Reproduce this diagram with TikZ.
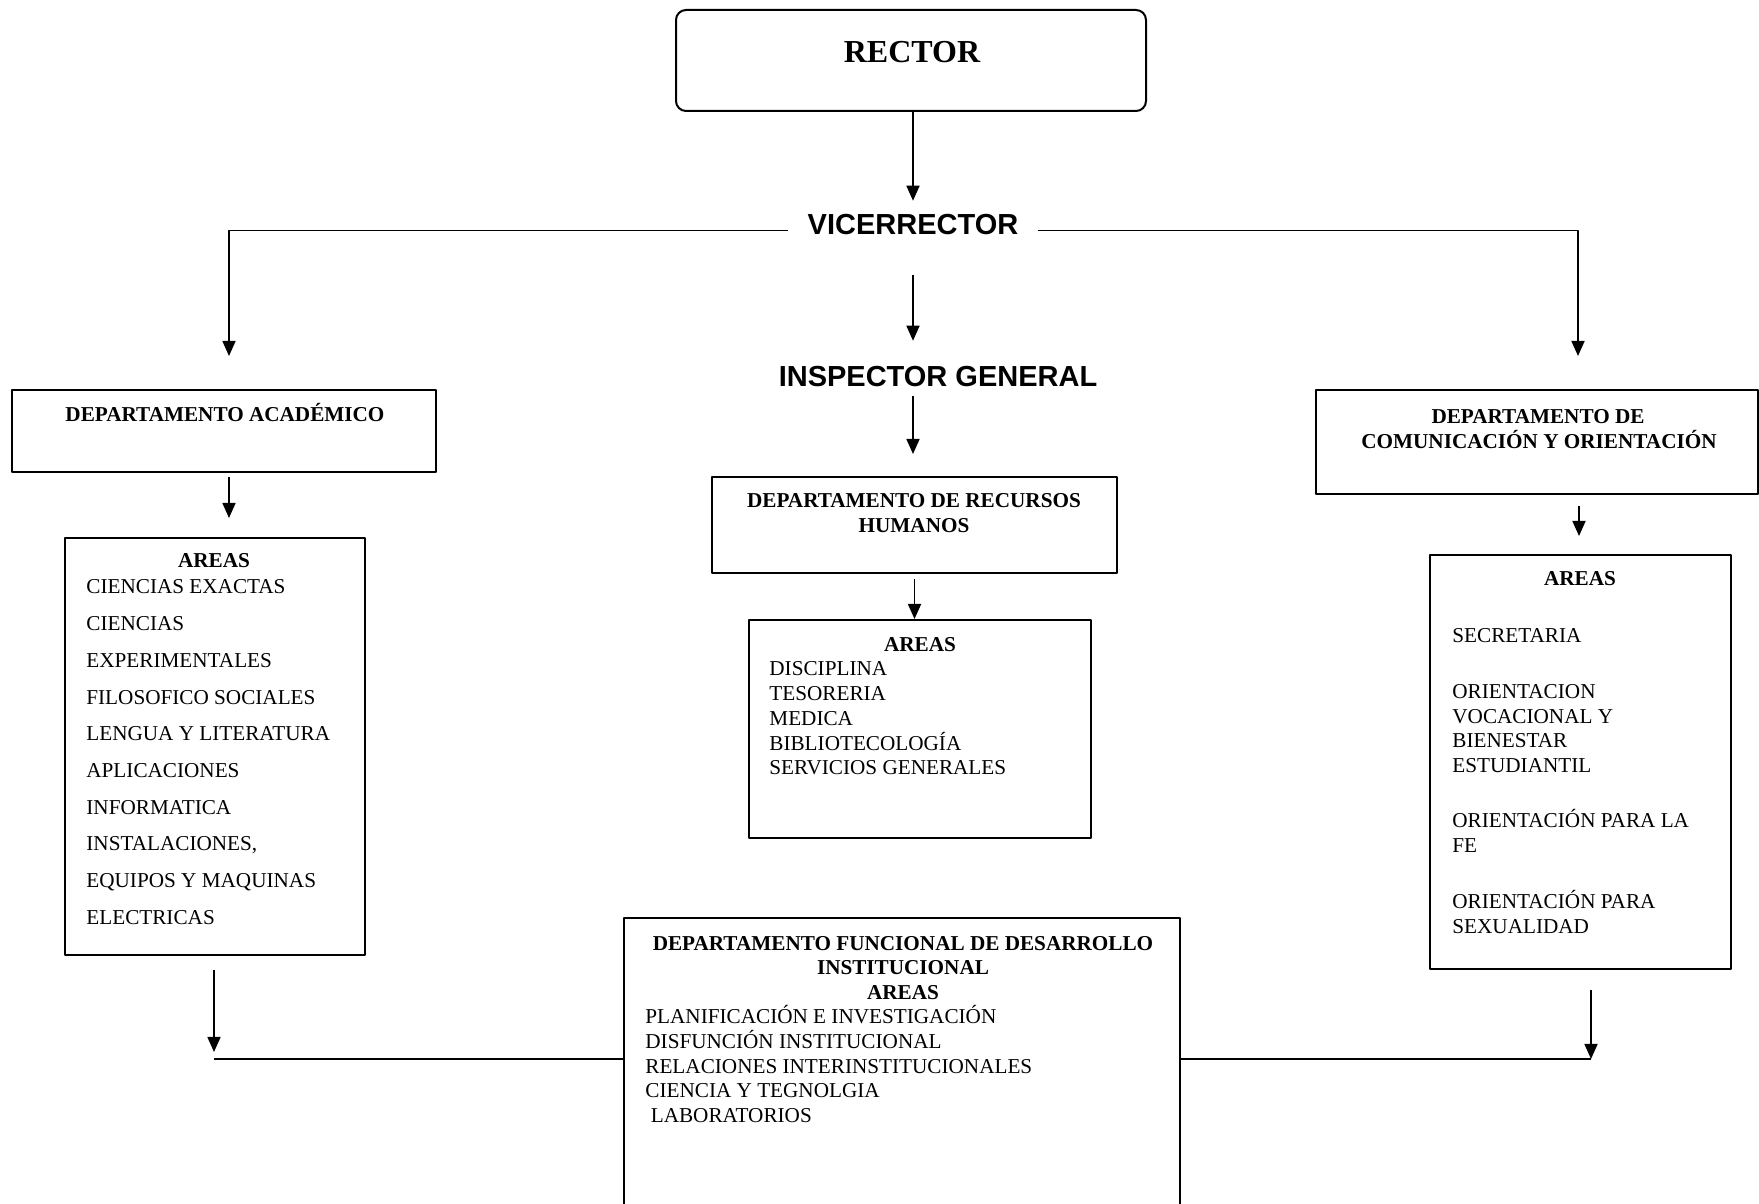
\documentclass[tikz,border=0pt]{standalone}
\usepackage{fontspec}
\setmainfont{Liberation Serif}
\newfontfamily\arialfont{Liberation Sans}
\usetikzlibrary{arrows.meta}
\begin{document}
\begin{tikzpicture}[>={Triangle[length=7.5bp,width=6.5bp]},line join=bevel,
  box/.style={draw,line width=1bp,inner sep=0pt},
  txt/.style={anchor=base,inner sep=0pt,font=\fontsize{10.6bp}{12.35bp}\selectfont},
  hd/.style={txt,font=\fontsize{10.6bp}{12.35bp}\selectfont\bfseries},
  itm/.style={txt,anchor=base west},
  big/.style={anchor=base,font=\arialfont\fontsize{14.5bp}{17bp}\selectfont\bfseries},
  conn/.style={black,line width=0.8bp}]
\useasboundingbox (0bp,0bp) rectangle (879.5bp,602bp);
%%
\node (node_rector) at (455.5bp,571.75bp) [box,rounded corners=5bp,minimum width=235bp,minimum height=50.5bp] {};
  \node (t_rector) at (456bp,570.5bp) [anchor=base,inner sep=0pt,font=\fontsize{16bp}{19bp}\selectfont\bfseries] {RECTOR};
  \node (node_vice) at (456.5bp,484.5bp) [big,inner xsep=9.5bp,inner ysep=3bp] {VICERRECTOR};
  \node (node_insp) at (469bp,408.5bp) [big,inner sep=3bp] {INSPECTOR GENERAL};
  \node (node_acad) at (112bp,386.5bp) [box,minimum width=212bp,minimum height=41bp] {};
  \node (node_areas_acad) at (107.5bp,228.75bp) [box,minimum width=150bp,minimum height=208.5bp] {};
  \node (node_rrhh) at (457.25bp,339.5bp) [box,minimum width=202.5bp,minimum height=48bp] {};
  \node (node_areas_rrhh) at (460bp,237.5bp) [box,minimum width=171bp,minimum height=109bp] {};
  \node (node_comu) at (768.5bp,381bp) [box,minimum width=221bp,minimum height=52bp] {};
  \node (node_areas_com) at (790.25bp,221bp) [box,minimum width=150.5bp,minimum height=207bp] {};
  \node (node_desarrollo) at (451bp,58bp) [box,minimum width=278bp,minimum height=170bp] {};
%
\node (t_acad) at (112.5bp,391bp) [hd] {DEPARTAMENTO ACADÉMICO};
  \node (t_acad_0) at (107bp,318bp) [hd] {AREAS};
  \node (t_acad_1) at (43bp,305bp) [itm] {CIENCIAS EXACTAS};
  \node (t_acad_2) at (43bp,286.65bp) [itm] {CIENCIAS};
  \node (t_acad_3) at (43bp,268.3bp) [itm] {EXPERIMENTALES};
  \node (t_acad_4) at (43bp,249.95bp) [itm] {FILOSOFICO SOCIALES};
  \node (t_acad_5) at (43bp,231.6bp) [itm] {LENGUA Y LITERATURA};
  \node (t_acad_6) at (43bp,213.25bp) [itm] {APLICACIONES};
  \node (t_acad_7) at (43bp,194.9bp) [itm] {INFORMATICA};
  \node (t_acad_8) at (43bp,176.55bp) [itm] {INSTALACIONES,};
  \node (t_acad_9) at (43bp,158.2bp) [itm] {EQUIPOS Y MAQUINAS};
  \node (t_acad_10) at (43bp,139.85bp) [itm] {ELECTRICAS};
%
\node (t_rrhh_a) at (457bp,348bp) [hd] {DEPARTAMENTO DE RECURSOS};
  \node (t_rrhh_b) at (457bp,335.5bp) [hd] {HUMANOS};
  \node (t_rrhh_0) at (460bp,276bp) [hd] {AREAS};
  \node (t_rrhh_1) at (384.5bp,264bp) [itm] {DISCIPLINA};
  \node (t_rrhh_2) at (384.5bp,251.65bp) [itm] {TESORERIA};
  \node (t_rrhh_3) at (384.5bp,239.3bp) [itm] {MEDICA};
  \node (t_rrhh_4) at (384.5bp,226.95bp) [itm] {BIBLIOTECOLOGÍA};
  \node (t_rrhh_5) at (384.5bp,214.6bp) [itm] {SERVICIOS GENERALES};
%
\node (t_comu_a) at (769bp,390.3bp) [hd] {DEPARTAMENTO DE};
  \node (t_comu_b) at (769.5bp,377.8bp) [hd] {COMUNICACIÓN Y ORIENTACIÓN};
  \node (t_comu_0) at (790bp,309bp) [hd] {AREAS};
  \node (t_comu_1) at (726bp,280.8bp) [itm] {SECRETARIA};
  \node (t_comu_2) at (726bp,252.7bp) [itm] {ORIENTACION};
  \node (t_comu_3) at (726bp,240.35bp) [itm] {VOCACIONAL Y};
  \node (t_comu_4) at (726bp,228bp) [itm] {BIENESTAR};
  \node (t_comu_5) at (726bp,215.65bp) [itm] {ESTUDIANTIL};
  \node (t_comu_6) at (726bp,188bp) [itm] {ORIENTACIÓN PARA LA};
  \node (t_comu_7) at (726bp,175.65bp) [itm] {FE};
  \node (t_comu_8) at (726bp,147.7bp) [itm] {ORIENTACIÓN PARA};
  \node (t_comu_9) at (726bp,135.35bp) [itm] {SEXUALIDAD};
%
\node (t_des_a) at (451.5bp,126.6bp) [hd] {DEPARTAMENTO FUNCIONAL DE DESARROLLO};
  \node (t_des_b) at (451.5bp,114.6bp) [hd] {INSTITUCIONAL};
  \node (t_des_0) at (451.5bp,102.1bp) [hd] {AREAS};
  \node (t_des_1) at (322.5bp,90.1bp) [itm] {PLANIFICACIÓN E INVESTIGACIÓN};
  \node (t_des_2) at (322.5bp,77.75bp) [itm] {DISFUNCIÓN INSTITUCIONAL};
  \node (t_des_3) at (322.5bp,65.4bp) [itm] {RELACIONES INTERINSTITUCIONALES};
  \node (t_des_4) at (322.5bp,53.05bp) [itm] {CIENCIA Y TEGNOLGIA};
  \node (t_des_5) at (325.2bp,40.7bp) [itm] {LABORATORIOS};
%%
\coordinate (join_l) at (107bp,72.5bp);
  \coordinate (join_r) at (795.5bp,72.5bp);
  \draw [conn,->,shorten >=3.8bp] (node_rector.south -| node_vice.north) -- (node_vice.north);
  \draw [conn,->,shorten >=16.5bp] ([yshift=-2.7bp]node_vice.west) -| ([xshift=2.5bp]node_acad.north);
  \draw [conn,->,shorten >=16.5bp] ([yshift=-2.7bp]node_vice.east) -| ([xshift=20.5bp]node_comu.north);
  \draw [conn,->,shorten <=16.8bp,shorten >=9.8bp] (node_vice.south) -- (node_vice.south |- node_insp.north);
  \draw [conn,->,shorten <=1.3bp,shorten >=11bp] (node_vice.south |- node_insp.south) -- (node_vice.south |- node_rrhh.north);
  \draw [conn,->,shorten <=2.5bp] (node_rrhh.south) -- (node_rrhh.south |- node_areas_rrhh.north);
  \draw [conn,->,shorten <=2bp,shorten >=9.5bp] ([xshift=2.5bp]node_acad.south) -- ([xshift=2.5bp]node_acad.south |- node_areas_acad.north);
  \draw [conn,->,shorten <=5.5bp,shorten >=9bp] ([xshift=21bp]node_comu.south) -- ([xshift=21bp]node_comu.south |- node_areas_com.north);
  \draw [conn,->,shorten <=7bp,shorten >=3.5bp] (node_areas_acad.south -| join_l) -- (join_l);
  \draw [black,line width=1bp] (join_l) -- (join_l -| node_desarrollo.west);
  \draw [conn,->,shorten <=10bp] (node_areas_com.south -| join_r) -- (join_r);
  \draw [black,line width=1bp] (node_desarrollo.east |- join_r) -- (join_r);
%
\end{tikzpicture}
\end{document}
